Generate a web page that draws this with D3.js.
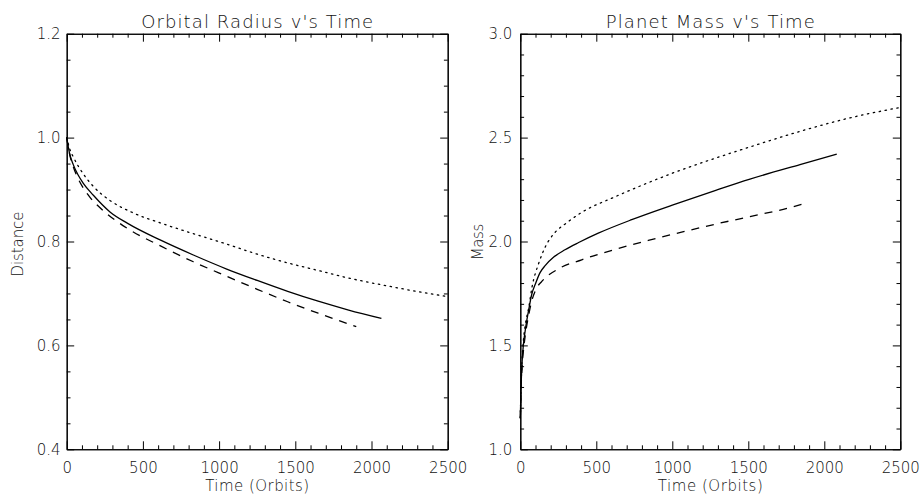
<!DOCTYPE html>
<html><head><meta charset="utf-8">
<script src="https://cdn.jsdelivr.net/npm/d3@7"></script>
<style>body{margin:0;background:#fff}</style>
</head><body>
<svg id="c" width="922" height="495"></svg>
<script>
// ---------- DATA ----------
const xTicks = [0, 500, 1000, 1500, 2000, 2500];
const radiusTicks = [0.4, 0.6, 0.8, 1.0, 1.2];
const massTicks = [1.0, 1.5, 2.0, 2.5, 3.0];

const titles = ["Orbital Radius v's Time", "Planet Mass v's Time"];
const yLabels = ["Distance", "Mass"];
const xLabel = "Time (Orbits)";

// Orbital radius vs time  [time, distance]
const radiusSolid = [[0,1.0],[20,0.968],[43,0.948],[75,0.928],[109,0.912],[175,0.889],[284,0.857],[400,0.835],[613,0.803],[831,0.774],[1050,0.747],[1250,0.725],[1450,0.704],[1650,0.685],[1850,0.668],[2065,0.652]];
const radiusDashed = [[0,1.0],[20,0.967],[43,0.944],[75,0.921],[109,0.903],[153,0.885],[219,0.865],[394,0.826],[612,0.792],[831,0.761],[1050,0.733],[1250,0.708],[1450,0.684],[1650,0.662],[1900,0.636]];
const radiusDotted = [[0,1.0],[20,0.978],[43,0.963],[109,0.930],[175,0.906],[284,0.879],[437,0.855],[612,0.836],[875,0.811],[1050,0.795],[1203,0.780],[1421,0.761],[1640,0.745],[1859,0.729],[2077,0.716],[2296,0.704],[2500,0.694]];

// Planet mass vs time  [time, mass]
const massSolid = [[0,1.15],[5,1.30],[11,1.41],[20,1.50],[33,1.575],[55,1.67],[75,1.745],[99,1.795],[130,1.85],[165,1.885],[220,1.925],[294,1.96],[384,1.995],[513,2.04],[733,2.105],[1000,2.175],[1281,2.245],[1511,2.30],[1840,2.37],[2082,2.42]];
const massDashed = [[0,1.15],[5,1.29],[11,1.39],[20,1.47],[33,1.55],[55,1.645],[77,1.718],[100,1.765],[151,1.815],[250,1.868],[404,1.912],[623,1.962],[842,2.005],[1061,2.045],[1281,2.083],[1511,2.12],[1730,2.155],[1862,2.181]];
const massDotted = [[0,1.15],[5,1.30],[11,1.42],[20,1.52],[33,1.60],[55,1.68],[77,1.78],[121,1.895],[165,1.975],[230,2.045],[300,2.087],[404,2.14],[623,2.215],[842,2.283],[1061,2.345],[1300,2.405],[1511,2.455],[1840,2.53],[2169,2.595],[2498,2.645]];

// ---------- DRAW ----------
const svg = d3.select("#c");
svg.append("rect").attr("width",922).attr("height",495).attr("fill","#fff");
const FONT = "'DejaVu Sans', sans-serif";

const panels = [
  {x0:66.7, x1:447.7, y0:33.7, y1:449.3, ydom:[0.4,1.2], yt:radiusTicks, minorStep:0.05,
   series:[radiusSolid, radiusDashed, radiusDotted], title:titles[0], ylab:yLabels[0],
   titleW:232, ylabX:22.7, ylabW:65, ylabY:244, xlabW:104, tickPadY:6.2},
  {x0:520.3, x1:900.3, y0:33.7, y1:449.3, ydom:[1.0,3.0], yt:massTicks, minorStep:0.1,
   series:[massSolid, massDashed, massDotted], title:titles[1], ylab:yLabels[1],
   titleW:209, ylabX:482.7, ylabW:36.7, ylabY:242, xlabW:105, tickPadY:8}
];
const styles = [null, "8,7", "1.4,4.6"];

panels.forEach(p => {
  const x = d3.scaleLinear().domain([0,2500]).range([p.x0,p.x1]);
  const y = d3.scaleLinear().domain(p.ydom).range([p.y1,p.y0]);
  const g = svg.append("g");

  const xMinor = d3.range(0,2501,100).filter(v => v%500!==0);
  const yMinor = d3.range(Math.round(p.ydom[0]/p.minorStep), Math.round(p.ydom[1]/p.minorStep)+1)
      .map(i => +(i*p.minorStep).toFixed(3)).filter(v => !p.yt.some(t => Math.abs(t-v)<1e-6));

  const styleAxis = sel => {
    sel.selectAll("path.domain").attr("stroke","#000").attr("stroke-width",1.1);
    sel.selectAll(".tick line").attr("stroke","#000").attr("stroke-width",1);
    sel.selectAll("text").attr("font-family",FONT).attr("font-size",15).attr("fill","#111").attr("font-weight",200);
  };

  // bottom
  g.append("g").attr("transform",`translate(0,${p.y1})`)
    .call(d3.axisBottom(x).tickValues(xTicks).tickSize(-8).tickSizeOuter(0).tickPadding(13).tickFormat(d3.format("d")))
    .call(styleAxis);
  g.append("g").attr("transform",`translate(0,${p.y1})`)
    .call(d3.axisBottom(x).tickValues(xMinor).tickSize(-4).tickSizeOuter(0).tickFormat(""))
    .call(styleAxis);
  // top
  g.append("g").attr("transform",`translate(0,${p.y0})`)
    .call(d3.axisTop(x).tickValues(xTicks).tickSize(-8).tickSizeOuter(0).tickFormat(""))
    .call(styleAxis);
  g.append("g").attr("transform",`translate(0,${p.y0})`)
    .call(d3.axisTop(x).tickValues(xMinor).tickSize(-4).tickSizeOuter(0).tickFormat(""))
    .call(styleAxis);
  // left
  g.append("g").attr("transform",`translate(${p.x0},0)`)
    .call(d3.axisLeft(y).tickValues(p.yt).tickSize(-7.5).tickSizeOuter(0).tickPadding(p.tickPadY).tickFormat(d3.format(".1f")))
    .call(styleAxis);
  g.append("g").attr("transform",`translate(${p.x0},0)`)
    .call(d3.axisLeft(y).tickValues(yMinor).tickSize(-3.8).tickSizeOuter(0).tickFormat(""))
    .call(styleAxis);
  // right
  g.append("g").attr("transform",`translate(${p.x1},0)`)
    .call(d3.axisRight(y).tickValues(p.yt).tickSize(-7.5).tickSizeOuter(0).tickFormat(""))
    .call(styleAxis);
  g.append("g").attr("transform",`translate(${p.x1},0)`)
    .call(d3.axisRight(y).tickValues(yMinor).tickSize(-3.8).tickSizeOuter(0).tickFormat(""))
    .call(styleAxis);

  // curves
  const line = d3.line().x(d => x(d[0])).y(d => y(d[1])).curve(d3.curveMonotoneX);
  p.series.forEach((s,i) => {
    g.append("path").datum(s).attr("d",line).attr("fill","none")
      .attr("stroke","#000").attr("stroke-width",1.3)
      .attr("stroke-dasharray",styles[i]).attr("stroke-linecap", i===2 ? "round" : "butt");
  });

  const cx = (p.x0+p.x1)/2;
  g.append("text").attr("x",cx).attr("y",28).attr("text-anchor","middle")
    .attr("font-family",FONT).attr("font-size",18).attr("font-weight",200).attr("fill","#111")
    .attr("textLength",p.titleW).attr("lengthAdjust","spacing").text(p.title);
  g.append("text").attr("x",cx).attr("y",491).attr("text-anchor","middle")
    .attr("font-family",FONT).attr("font-size",15).attr("font-weight",200).attr("fill","#111")
    .attr("textLength",p.xlabW).attr("lengthAdjust","spacing").text(xLabel);
  g.append("text").attr("transform",`translate(${p.ylabX},${p.ylabY}) rotate(-90)`).attr("text-anchor","middle")
    .attr("font-family",FONT).attr("font-size",15).attr("font-weight",200).attr("fill","#111")
    .attr("textLength",p.ylabW).attr("lengthAdjust","spacing").text(p.ylab);
});
</script>
</body></html>
